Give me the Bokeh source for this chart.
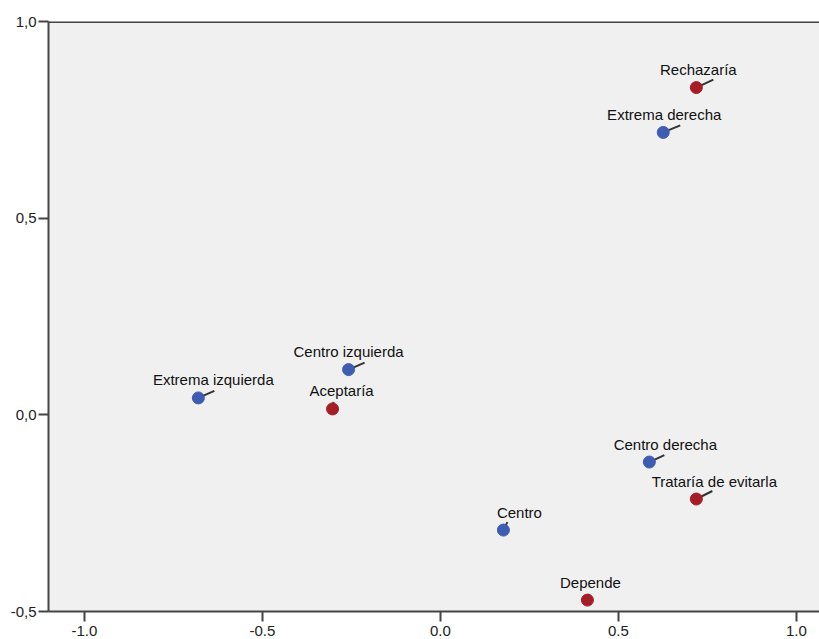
from bokeh.plotting import figure
from bokeh.models import FixedTicker, ColumnDataSource, Range1d, Span
from bokeh.core.properties import value
from bokeh.embed import file_html
from bokeh.resources import INLINE

# ---- data ----
names = ["Extrema izquierda", "Centro izquierda", "Centro", "Centro derecha", "Extrema derecha",
         "Aceptaría", "Trataría de evitarla", "Depende", "Rechazaría"]
dim1 = [-0.680, -0.258, 0.177, 0.587, 0.626, -0.303, 0.719, 0.413, 0.719]
dim2 = [0.043, 0.115, -0.293, -0.120, 0.718, 0.015, -0.214, -0.471, 0.832]
group = ["row", "row", "row", "row", "row", "col", "col", "col", "col"]
x_ticks = [-1.0, -0.5, 0.0, 0.5, 1.0]
x_tick_labels = ["-1.0", "-0.5", "0.0", "0.5", "1.0"]
y_ticks = [-0.5, 0.0, 0.5, 1.0]
y_tick_labels = ["-0,5", "0,0", "0,5", "1,0"]

# ---- layout / style ----
W, H = 819, 639
BL, BR, BT, BB = 48, 0, 21, 28
X0, X1 = -1.101, 1.065
Y0, Y1 = -0.5, 1.0
colors = {"row": "#3d5cb2", "col": "#a51e27"}
# label offsets (px) and leader line end offsets (px)
label_dx = [15, 0, 16, 16, 1, 9, 18, 3, 2]
label_dy = -18
lead_dx = [16, 16, 4, 15, 17, 1, 16, 2, 17]
lead_dy = [-7, -7, -8, -7, -7, -7, -8, -6, -8]

ppx = (W - BL - BR) / (X1 - X0)
ppy = (H - BT - BB) / (Y1 - Y0)

p = figure(width=W, height=H, output_backend="svg", toolbar_location=None,
           x_range=Range1d(X0, X1), y_range=Range1d(Y0, Y1),
           min_border_left=BL, min_border_right=BR, min_border_top=BT, min_border_bottom=BB)
p.background_fill_color = "#f0f0f0"
p.border_fill_color = "white"
p.outline_line_color = None
p.grid.visible = False
p.add_layout(Span(location=Y1, dimension="width", line_color="#444444", line_width=3))

# leader lines
x_end = [x + dx / ppx for x, dx in zip(dim1, lead_dx)]
y_end = [y - dy / ppy for y, dy in zip(dim2, lead_dy)]
p.segment(x0=dim1, y0=dim2, x1=x_end, y1=y_end, line_color="#333333", line_width=2)

src = ColumnDataSource(dict(x=dim1, y=dim2, name=names,
                            color=[colors[g] for g in group], ldx=label_dx))
p.scatter("x", "y", source=src, size=12, fill_color="color", line_color="color")
p.text("x", "y", text="name", source=src, x_offset="ldx", y_offset=label_dy,
       text_align="center", text_baseline="middle", text_font=value("Liberation Sans"),
       text_font_size="15px", text_color="#111111")

p.xaxis.ticker = FixedTicker(ticks=x_ticks)
p.xaxis.major_label_overrides = {t: l for t, l in zip(x_ticks, x_tick_labels)}
p.yaxis.ticker = FixedTicker(ticks=y_ticks)
p.yaxis.major_label_overrides = {t: l for t, l in zip(y_ticks, y_tick_labels)}
for ax in (p.xaxis, p.yaxis):
    ax.minor_tick_line_color = None
    ax.axis_line_color = "#444444"
    ax.axis_line_width = 2
    ax.major_tick_line_color = "#444444"
    ax.major_tick_line_width = 2
    ax.major_tick_in = 0
    ax.major_tick_out = 10
    ax.major_label_text_font = "Liberation Sans"
    ax.major_label_text_font_size = "15px"
    ax.major_label_text_color = "#222222"
p.xaxis.major_label_standoff = 4
p.yaxis.major_label_standoff = 2

open("out.html", "w").write(file_html(p, INLINE))
